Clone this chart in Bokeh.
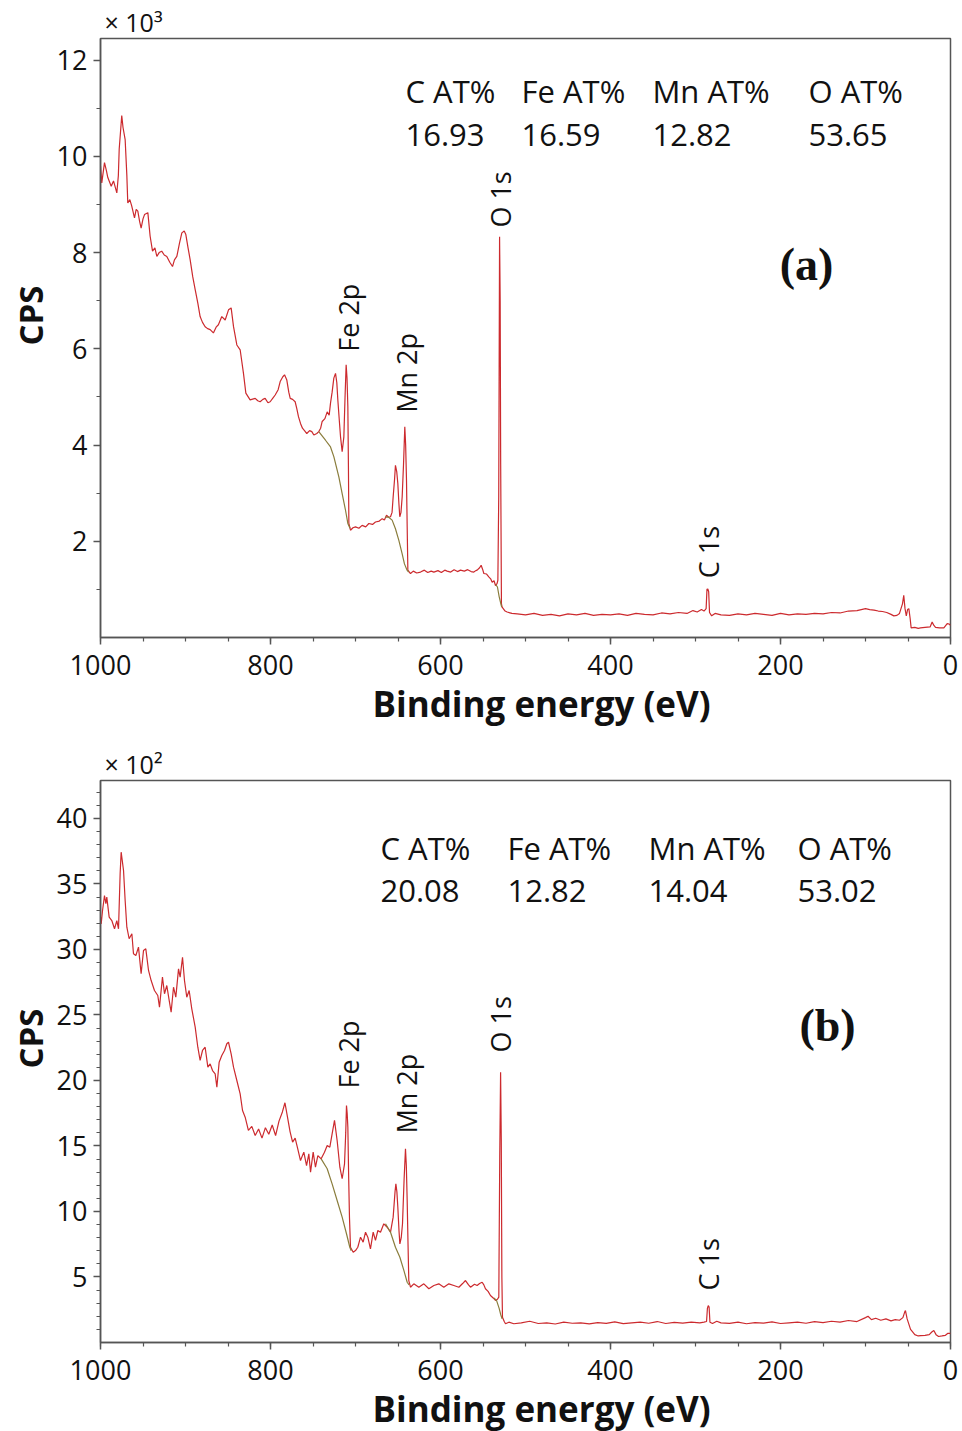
import math
from bokeh.plotting import figure
from bokeh.models import Range1d, FixedTicker, Label, Title
from bokeh.layouts import column
from bokeh.embed import file_html
from bokeh.resources import INLINE

# ---------------- data: panel (a), CPS x 10^3 ----------------
a_energy = [1000, 998.5, 995.3, 993, 991.4, 989, 987.4, 984.7, 982.5, 980.8, 979, 978, 975, 973.5, 971, 969, 967.9,
            965.5, 963.3, 960, 958, 956.1, 954, 952.2, 950, 948.2, 944.3, 941.6, 938.8, 936, 933.7, 931, 928, 925,
            922, 918.5, 915.3, 913, 910.2, 907, 904.3, 901.5, 899.6, 897, 894.5, 891.5, 888.6, 885.5, 882.8, 880,
            876.9, 874, 871, 867.2, 864, 861.3, 857.3, 853.3, 849.4, 846.3, 843.5, 839.6, 835.7, 831.8, 829, 824,
            818, 815, 812.2, 809, 806.3, 803, 800.4, 797, 794.5, 791, 788.6, 785.5, 783.5, 780.8, 778.5, 776.8, 774,
            771, 769, 767.1, 764.7, 762.4, 760, 757.3, 754, 751.4, 749, 745.5, 743.2, 741, 739.2, 736, 733.3, 731,
            729.4, 727.5, 725.5, 723.5, 722, 720.8, 719, 717.6, 715.7, 713.7, 712.3, 711, 710, 709, 708.3, 707.8,
            705.9, 703, 700, 696, 692.2, 688, 684.3, 680, 676.5, 672, 668.6, 666, 663.5, 661, 658.8, 657, 655.7,
            654, 653, 651.5, 650.2, 649, 647.9, 646.5, 645.1, 643.5, 642, 641, 640, 639.2, 638.4, 635.3, 632, 628,
            623.5, 619, 615, 611, 607.8, 603, 599, 595, 592.2, 588, 584, 580, 576.5, 572, 568, 564, 560.8, 558.5,
            556.9, 554, 552.2, 550.5, 549, 546, 543.2, 541, 539.2, 537, 535.3, 533.5, 532.5, 531.5, 530.5, 529.8,
            529.2, 528.3, 527.5, 524, 521.6, 516, 509.8, 500, 490, 480, 470, 460, 450, 440, 430, 420, 410, 400, 390,
            380, 370, 360, 350, 340, 330, 320, 310, 303, 298, 293, 290, 287.5, 286.5, 285.5, 284.5, 283.5, 281, 277,
            270, 260, 250, 240, 230, 220, 210, 200, 190, 180, 170, 160, 150, 140, 130, 120, 110, 100, 95, 90, 85, 80,
            75, 70, 66.7, 63, 60, 56.5, 55, 53.5, 52, 50.5, 49, 47.5, 46.3, 42, 38, 35.3, 30, 24, 21.6, 19.5, 17.6,
            13, 7.8, 3.9, 1.5, 0]
a_cps = [9.8, 9.45, 9.87, 9.7, 9.56, 9.45, 9.38, 9.49, 9.35, 9.24, 9.6, 10.15, 10.85, 10.6, 10.35, 9.6, 9.03,
         9.1, 8.97, 8.72, 8.9, 8.86, 8.65, 8.51, 8.7, 8.79, 8.83, 8.34, 8.03, 8.1, 7.92, 8.0, 8.03, 7.95,
         7.92, 7.8, 7.71, 7.85, 7.92, 8.2, 8.41, 8.45, 8.375, 8.1, 7.85, 7.5, 7.23, 6.95, 6.67, 6.55,
         6.46, 6.42, 6.40, 6.33, 6.45, 6.5, 6.67, 6.6, 6.81, 6.85, 6.46, 6.08, 5.98, 5.49, 5.08, 4.94,
         4.97, 4.92, 4.90, 4.95, 4.97, 4.88, 4.90, 4.98, 5.04, 5.15, 5.32, 5.42, 5.46, 5.35, 5.1, 4.97, 4.95,
         4.90, 4.75, 4.59, 4.45, 4.35, 4.3, 4.24, 4.3, 4.28, 4.21, 4.24, 4.28, 4.35, 4.49, 4.55, 4.69, 4.62,
         4.87, 5.1, 5.39, 5.49, 5.3, 4.94, 4.5, 4.17, 3.86, 4.17, 5.0, 5.67, 5.4, 4.80, 3.5, 2.37,
         2.23, 2.28, 2.30, 2.27, 2.33, 2.3, 2.37, 2.35, 2.40, 2.42, 2.47, 2.44, 2.54, 2.5, 2.51, 2.6, 2.92,
         3.3, 3.58, 3.45, 3.20, 2.8, 2.51, 2.6, 2.92, 3.6, 4.38, 4.0, 3.27, 2.3, 1.40, 1.33, 1.38, 1.34,
         1.36, 1.4, 1.35, 1.38, 1.36, 1.39, 1.35, 1.4, 1.38, 1.36, 1.41, 1.37, 1.40, 1.38, 1.41, 1.37, 1.36, 1.39,
         1.40, 1.45, 1.50, 1.42, 1.33, 1.32, 1.26, 1.22, 1.15, 1.18, 1.08, 1.12, 1.19, 2.92, 8.33, 7.0,
         3.6, 0.7, 0.63, 0.55, 0.53, 0.50, 0.49, 0.47, 0.50, 0.46, 0.48, 0.45, 0.49, 0.47, 0.50, 0.46, 0.48, 0.47, 0.49,
         0.46, 0.50, 0.48, 0.47, 0.51, 0.49, 0.52, 0.50, 0.56, 0.53, 0.58, 0.55, 0.6, 1.0, 1.01, 0.95, 0.52, 0.45, 0.5,
         0.47, 0.46, 0.49, 0.47, 0.5, 0.48, 0.46, 0.5, 0.47, 0.49, 0.48, 0.5, 0.49, 0.52, 0.51, 0.55, 0.56, 0.60, 0.58, 0.57, 0.55, 0.54,
         0.52, 0.48, 0.45, 0.46, 0.5, 0.7, 0.875, 0.6, 0.45, 0.58, 0.6, 0.4, 0.20, 0.21, 0.19, 0.20, 0.21, 0.22, 0.32, 0.25, 0.21,
         0.2, 0.20, 0.29, 0.28, 0.25]

a_bg_energy = [[743.2, 735.3, 729.4, 725.5, 719.6, 715.7, 711.8, 709, 706.5],
               [665, 661, 656.9, 653, 649, 645.1, 642.4, 639.3, 637.5],
               [535, 533, 531, 529, 528]]
a_bg_cps = [[4.28, 4.10, 3.96, 3.76, 3.34, 2.99, 2.65, 2.37, 2.27],
            [2.5, 2.5, 2.44, 2.26, 2.02, 1.74, 1.53, 1.40, 1.36],
            [1.1, 1.05, 0.85, 0.7, 0.63]]

# ---------------- data: panel (b), CPS x 10^2 ----------------
b_energy = [1000, 999.2, 997.6, 995.3, 993.7, 992.6, 989.8, 986.7, 983.5, 980.8, 978.8, 976.9, 975.7, 972.9, 971,
            969, 966.3, 963.1, 961.2, 958.4, 955.3, 952.2, 949.4, 946.7, 943.5, 940.4, 936.5, 932.6, 930.6, 927.1,
            924.7, 922, 919.2, 916.9, 914.1, 911.4, 908.2, 906.3, 903.5, 901.2, 898.5, 895.7, 892.6, 888.6, 885.5,
            882.8, 880, 876.9, 873.7, 871, 868.2, 865.1, 863.1, 860.4, 857.3, 854.1, 851.4, 849.4, 846.3, 843.5,
            839.6, 835.7, 832.9, 829.8, 826, 822, 818, 814, 810, 806, 802, 798, 794, 790, 786, 783, 780, 777, 774,
            771, 768, 764.7, 760.8, 757.6, 754.9, 752.9, 749.8, 747.1, 744.3, 740.4, 736.5, 733.3, 730.2, 727.5,
            724.7, 721.6, 718.4, 715.7, 712.9, 711.5, 710.6, 709.8, 709, 708, 707.1, 705.9, 702.7, 700, 697.3,
            694.1, 691, 688.2, 685.5, 682.4, 679.2, 676.5, 673.7, 670.6, 666.7, 662.7, 658.8, 655.7, 653.5, 652.5,
            651.3, 650.2, 648.8, 647.8, 646.2, 644.7, 642.8, 641.2, 640.2, 639.2, 638.2, 637.3, 635.3, 631.4,
            625.5, 619.6, 613.7, 607.8, 602, 596.1, 590.2, 584.3, 578.4, 574, 570.6, 567, 564.7, 560, 556.9, 554,
            551, 549, 547.1, 544, 541.2, 538, 535.3, 533, 531.4, 530.3, 529.3, 528.5, 527.8, 527.1, 525, 523.5,
            519.6, 513.7, 505, 495, 485, 475, 465, 455, 445, 435, 425, 415, 405, 395, 385, 375, 365, 355, 345, 335,
            325, 315, 305, 295, 290, 287, 286, 285, 284, 283, 280, 275, 270, 260, 250, 240, 230, 220, 210, 200, 190,
            180, 170, 160, 150, 140, 130, 120, 110, 100, 97, 93, 88, 82, 76, 70, 65, 60, 56, 54, 53, 51, 49, 47, 46,
            42, 38, 35, 30, 25, 22, 19.6, 17, 14, 10, 6, 3, 0]
b_cps = [32.5, 31.96, 32.98, 34.12, 33.49, 34.0, 32.47, 32.21, 31.58, 32.21, 31.58, 35.78, 37.43, 36.03, 33.74,
         31.7, 30.82, 31.2, 29.67, 29.54, 30.18, 28.15, 29.92, 30.05, 28.4, 27.63, 26.87, 26.49, 25.6, 27.89,
         26.62, 27.25, 26.11, 25.21, 27.12, 26.36, 28.52, 27.89, 29.41, 27.63, 26.36, 26.87, 25.47, 24.07, 22.54,
         21.53, 22.29, 22.54, 21.02, 21.27, 20.76, 20.51, 19.49, 21.4, 21.91, 22.29, 22.8, 22.92, 22.04, 21.02,
         20.0, 18.98, 17.71, 17.2, 16.2, 16.5, 15.8, 16.3, 15.6, 16.4, 15.9, 16.6, 15.8, 16.9, 17.6, 18.3, 17.2, 16.1, 15.3,
         15.6, 14.8, 13.89, 14.53, 13.51, 14.40, 13.0, 14.53, 13.38, 14.27, 14.02, 14.53, 15.04, 14.91, 15.93,
         16.95, 15.42, 13.38, 12.5, 13.64, 16.0, 18.09, 17.5, 16.44, 12.5, 9.57, 7.27, 6.89, 7.02, 7.27,
         8.04, 7.66, 8.42, 8.04, 7.15, 8.42, 7.79, 8.55, 8.42, 9.06, 8.80, 8.42, 9.57, 11.5, 12.11,
         11.5, 10.33, 8.5, 7.53, 8.0, 9.06, 12.5, 14.78, 13.5, 10.84, 7.5, 4.73, 4.22, 4.48,
         4.22, 4.48, 4.10, 4.35, 4.48, 4.22, 4.48, 4.35, 4.22, 4.5, 4.73, 4.4, 4.22, 4.45, 4.35, 4.5,
         4.60, 4.4, 4.10, 3.9, 3.59, 3.4, 3.21, 3.3, 3.46, 14.15, 20.63, 15.5, 5.0, 1.93, 1.6, 1.43,
         1.55, 1.43, 1.5, 1.62, 1.45, 1.5, 1.41, 1.55, 1.47, 1.5, 1.42, 1.52, 1.46, 1.58, 1.44, 1.5, 1.55, 1.47, 1.6, 1.45,
         1.53, 1.48, 1.56, 1.5, 1.55, 1.6, 2.6, 2.82, 2.7, 1.55, 1.45, 1.62, 1.5, 1.46, 1.55, 1.43, 1.52, 1.48, 1.58, 1.45, 1.5,
         1.55, 1.47, 1.6, 1.52, 1.62, 1.55, 1.68, 1.6, 1.9, 2.0, 1.75, 1.85, 1.7, 1.8, 1.65, 1.75, 1.7, 1.9, 2.3, 2.44, 1.8, 1.4, 1.0, 0.92,
         0.6, 0.5, 0.53, 0.55, 0.6, 0.8, 0.92, 0.6, 0.46, 0.5, 0.55, 0.7, 0.7]

b_bg_energy = [[740.4, 733.3, 727.5, 721.6, 715.7, 710.6, 706.7, 705],
               [664.7, 658.8, 653, 647.8, 643.1, 639.2, 637],
               [537, 534, 531, 529, 527.5]]
b_bg_cps = [[14.02, 13.26, 12.11, 10.84, 9.57, 8.3, 7.27, 7.0],
            [9.06, 8.42, 7.27, 6.51, 5.50, 4.60, 4.4],
            [3.4, 3.2, 2.6, 2.1, 1.8]]

# ---------------- text content ----------------
elements = ["C AT%", "Fe AT%", "Mn AT%", "O AT%"]
a_at = ["16.93", "16.59", "12.82", "53.65"]
b_at = ["20.08", "12.82", "14.04", "53.02"]
peak_names = ["Fe 2p", "Mn 2p", "O 1s", "C 1s"]
peak_energy = [708.5, 640.5, 529.5, 285.0]

x_major = [0, 200, 400, 600, 800, 1000]
x_minor = [v for v in range(0, 1001, 50)]
a_y_major = [2, 4, 6, 8, 10, 12]
a_y_minor = [1, 3, 5, 7, 9, 11]
b_y_major = [5, 10, 15, 20, 25, 30, 35, 40]
b_y_minor = list(range(1, 43))

FONT = "Open Sans"
LINE = "#cc2a2e"
BG = "#8a7d3c"
AXC = "#555555"
TXT = "#111111"


def make_panel(height, top_border, bottom_border, ymax, ymaj, ymin, scale_text, energy, cps,
               bg_e, bg_c, at_vals, at_x, at_rows, tag, tag_pos, peak_y, cps_offset, xlab_offset):
    p = figure(width=962, height=height, output_backend="svg", toolbar_location=None,
               x_range=Range1d(1000, 0), y_range=Range1d(0, ymax),
               min_border_left=100, min_border_right=12, min_border_top=top_border,
               min_border_bottom=bottom_border)
    p.grid.visible = False
    p.outline_line_color = AXC
    p.outline_line_width = 1.5
    p.background_fill_color = "white"
    p.border_fill_color = "white"

    # multiplier above the frame
    p.title.text = scale_text
    p.title.text_font = FONT
    p.title.text_font_size = "25px"
    p.title.text_font_style = "normal"
    p.title.text_color = TXT
    p.title.align = "left"
    p.title.offset = 4
    p.title.standoff = 0

    p.line(energy, cps, line_color=LINE, line_width=1.2)
    p.multi_line(bg_e, bg_c, line_color=BG, line_width=1.2)

    for ax in (p.xaxis[0], p.yaxis[0]):
        ax.axis_line_color = AXC
        ax.axis_line_width = 1.5
        ax.major_tick_line_color = AXC
        ax.minor_tick_line_color = AXC
        ax.major_tick_line_width = 1.5
        ax.minor_tick_line_width = 1.2
        ax.major_tick_in = 0
        ax.major_tick_out = 7
        ax.minor_tick_in = 0
        ax.minor_tick_out = 4
        ax.major_label_text_font = FONT
        ax.major_label_text_font_size = "27px"
        ax.major_label_text_color = TXT

    p.xaxis.ticker = FixedTicker(ticks=x_major, minor_ticks=x_minor)
    p.yaxis.ticker = FixedTicker(ticks=ymaj, minor_ticks=ymin)
    p.xaxis.major_label_standoff = 10
    p.yaxis.major_label_standoff = 6

    # axis titles as side titles (positioned along the axis)
    p.add_layout(Title(text="CPS", text_font=FONT, text_font_style="bold", text_font_size="33px",
                       text_color=TXT, align="left", offset=cps_offset, standoff=2), "left")
    p.add_layout(Title(text="Binding energy (eV)", text_font=FONT, text_font_style="bold",
                       text_font_size="35px", text_color=TXT, align="left", offset=xlab_offset,
                       standoff=0), "below")

    for i, name in enumerate(elements):
        p.add_layout(Label(x=at_x[i], y=at_rows[0], text=name, text_font=FONT, text_font_size="31px",
                           text_color=TXT, text_baseline="middle", text_align="left"))
        p.add_layout(Label(x=at_x[i], y=at_rows[1], text=at_vals[i], text_font=FONT, text_font_size="31px",
                           text_color=TXT, text_baseline="middle", text_align="left"))

    p.add_layout(Label(x=tag_pos[0], y=tag_pos[1], text=tag, text_font="Liberation Serif",
                       text_font_style="bold", text_font_size="46px", text_color=TXT,
                       text_baseline="middle", text_align="center"))

    for i, name in enumerate(peak_names):
        p.add_layout(Label(x=peak_energy[i], y=peak_y[i], text=name, text_font=FONT, text_font_size="27px",
                           text_color=TXT, angle=math.pi / 2, text_baseline="middle", text_align="left"))
    return p


p1 = make_panel(726, 38, 89, 12.45, a_y_major, a_y_minor, "× 10³", a_energy, a_cps,
                a_bg_energy, a_bg_cps, a_at, [641.2, 504.7, 350.6, 167.1], [11.35, 10.44],
                "(a)", (169.4, 7.75), [5.94, 4.67, 8.52, 1.23], 292, 272)
p2 = make_panel(705, 54, 89, 42.9, b_y_major, b_y_minor, "× 10²", b_energy, b_cps,
                b_bg_energy, b_bg_cps, b_at, [670.6, 521.2, 355.3, 180.0], [37.71, 34.43],
                "(b)", (144.7, 24.2), [19.39, 15.95, 22.14, 3.97], 274, 272)

layout = column(p1, p2, spacing=0)
open("out.html", "w").write(file_html(layout, INLINE))
